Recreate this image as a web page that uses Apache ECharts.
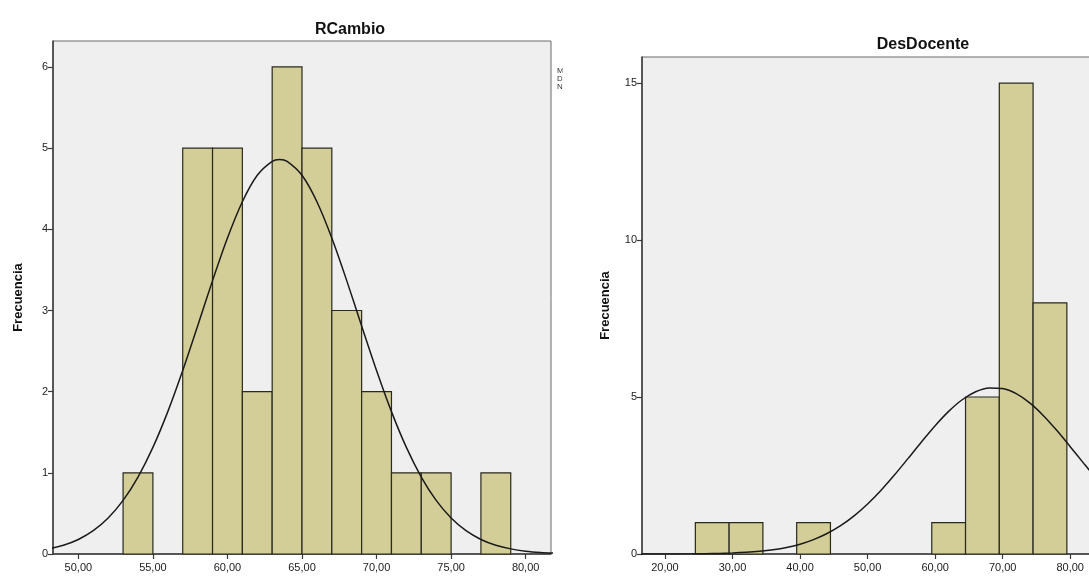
<!DOCTYPE html>
<html>
<head>
<meta charset="utf-8">
<script src="https://cdn.jsdelivr.net/npm/echarts@6/dist/echarts.min.js"></script>
<style>
html,body{margin:0;padding:0;background:#fff;}
#chart{width:1089px;height:580px;}
</style>
</head>
<body>
<div id="chart"></div>
<script>
// ---------- RCambio (left) ----------
const leftTitle = 'RCambio';
const leftBinStart = [53, 57, 59, 61, 63, 65, 67, 69, 71, 73, 77];
const leftBinEnd   = [55, 59, 61, 63, 65, 67, 69, 71, 73, 75, 79];
const leftCounts   = [1, 5, 5, 2, 6, 5, 3, 2, 1, 1, 1];
const leftXTicks = [50, 55, 60, 65, 70, 75, 80];
const leftYTicks = [0, 1, 2, 3, 4, 5, 6];
const leftCurveX = [48, 49, 50, 51, 52, 53, 54, 55, 56, 57, 58, 59, 60, 61, 62, 63, 63.5, 64, 65, 66, 67, 68, 69, 70, 71, 72, 73, 74, 75, 76, 77, 78, 79, 80, 81, 82];
const leftCurveY = [0.063, 0.108, 0.179, 0.287, 0.443, 0.660, 0.948, 1.313, 1.754, 2.261, 2.810, 3.368, 3.893, 4.340, 4.666, 4.838, 4.86, 4.838, 4.666, 4.340, 3.893, 3.368, 2.810, 2.261, 1.754, 1.313, 0.948, 0.660, 0.443, 0.287, 0.179, 0.108, 0.063, 0.035, 0.019, 0.010];
const leftLegend = ['Media = 63,50', 'Desviación típica = 5,25', 'N = 32'];

// ---------- DesDocente (right) ----------
const rightTitle = 'DesDocente';
const rightBinStart = [24.5, 29.5, 39.5, 59.5, 64.5, 69.5, 74.5];
const rightBinEnd   = [29.5, 34.5, 44.5, 64.5, 69.5, 74.5, 79.5];
const rightCounts   = [1, 1, 1, 1, 5, 15, 8];
const rightXTicks = [20, 30, 40, 50, 60, 70, 80];
const rightYTicks = [0, 5, 10, 15];
const rightCurveX = [16, 20, 24, 26, 28, 30, 32, 34, 36, 38, 40, 42, 44, 46, 48, 50, 52, 54, 56, 58, 60, 62, 64, 66, 68, 70, 72, 74, 76, 78, 80, 82, 84, 86];
const rightCurveY = [0.0004, 0.0015, 0.0056, 0.010, 0.018, 0.031, 0.052, 0.085, 0.135, 0.208, 0.313, 0.458, 0.652, 0.903, 1.217, 1.595, 2.034, 2.523, 3.046, 3.577, 4.087, 4.543, 4.913, 5.169, 5.291, 5.269, 5.106, 4.812, 4.414, 3.938, 3.418, 2.887, 2.372, 1.896];

const yName = 'Frecuencia';
const FONT = '"Liberation Sans", Arial, sans-serif';
const BAR_FILL = '#d3cd97';
const BAR_EDGE = '#2a2a1e';

function zip(a, b) { return a.map((v, i) => [v, b[i]]); }
function bins(s, e, c) { return s.map((v, i) => [v, e[i], c[i]]); }
function fmtX(v) { return Number(v).toFixed(2).replace('.', ','); }

function renderBar(params, api) {
  const p0 = api.coord([api.value(0), 0]);
  const p1 = api.coord([api.value(1), api.value(2)]);
  return {
    type: 'rect',
    shape: { x: p0[0], y: p1[1], width: p1[0] - p0[0], height: p0[1] - p1[1] },
    style: { fill: BAR_FILL, stroke: BAR_EDGE, lineWidth: 1.2 }
  };
}

function xAxisCfg(idx, min, max, ticks) {
  return {
    type: 'value', gridIndex: idx, min: min, max: max,
    axisLine: { show: true, onZero: false, lineStyle: { color: '#3a3a3a', width: 1.5 } },
    axisTick: { show: true, length: 5, customValues: ticks, lineStyle: { color: '#3a3a3a', width: 1.2 } },
    axisLabel: { customValues: ticks, formatter: fmtX, color: '#222', fontSize: 11, fontFamily: FONT, margin: 8 },
    splitLine: { show: false }
  };
}
function yAxisCfg(idx, max, ticks, gap) {
  return {
    type: 'value', gridIndex: idx, min: 0, max: max,
    name: yName, nameLocation: 'middle', nameRotate: 90, nameGap: gap,
    nameTextStyle: { fontFamily: FONT, fontWeight: 'bold', fontSize: 13, color: '#111' },
    axisLine: { show: true, lineStyle: { color: '#3a3a3a', width: 1.5 } },
    axisTick: { show: true, length: 5, customValues: ticks, lineStyle: { color: '#3a3a3a', width: 1.2 } },
    axisLabel: { customValues: ticks, color: '#222', fontSize: 11, fontFamily: FONT, margin: 5 },
    splitLine: { show: false }
  };
}

const chart = echarts.init(document.getElementById('chart'), null, { renderer: 'canvas' });
chart.setOption({
  backgroundColor: '#ffffff',
  animation: false,
  title: [
    { text: leftTitle, left: 345, top: 17, textAlign: 'center',
      textStyle: { fontFamily: FONT, fontWeight: 'bold', fontSize: 16, color: '#111' } },
    { text: rightTitle, left: 918, top: 32, textAlign: 'center',
      textStyle: { fontFamily: FONT, fontWeight: 'bold', fontSize: 16, color: '#111' } }
  ],
  grid: [
    { left: 53, top: 41, width: 498, height: 513, outerBoundsMode: 'none', show: true, backgroundColor: '#efefef', borderColor: '#6a6a6a', borderWidth: 1 },
    { left: 642, top: 57, width: 462, height: 497, outerBoundsMode: 'none', show: true, backgroundColor: '#efefef', borderColor: '#6a6a6a', borderWidth: 1 }
  ],
  xAxis: [
    xAxisCfg(0, 48.3, 81.7, leftXTicks),
    xAxisCfg(1, 16.6, 85, rightXTicks)
  ],
  yAxis: [
    yAxisCfg(0, 6.32, leftYTicks, 28),
    yAxisCfg(1, 15.83, rightYTicks, 30)
  ],
  graphic: [
    { type: 'group', left: 557, top: 67, z: 10, children: leftLegend.map((t, i) => ({
        type: 'text', x: 0, y: i * 8,
        style: { text: t, fill: '#333', font: '8px ' + FONT, width: 11, overflow: 'truncate', ellipsis: '' }
      })) },
    { type: 'rect', shape: { x: 562.5, y: 60, width: 40, height: 36 }, style: { fill: '#ffffff' }, z: 11 }
  ],
  series: [
    { type: 'custom', xAxisIndex: 0, yAxisIndex: 0, renderItem: renderBar,
      encode: { x: [0, 1], y: 2 }, data: bins(leftBinStart, leftBinEnd, leftCounts), z: 2 },
    { type: 'line', xAxisIndex: 0, yAxisIndex: 0, data: zip(leftCurveX, leftCurveY),
      smooth: 0.3, symbol: 'none', clip: true, lineStyle: { color: '#1a1a1a', width: 1.5 }, z: 3 },
    { type: 'custom', xAxisIndex: 1, yAxisIndex: 1, renderItem: renderBar,
      encode: { x: [0, 1], y: 2 }, data: bins(rightBinStart, rightBinEnd, rightCounts), z: 2 },
    { type: 'line', xAxisIndex: 1, yAxisIndex: 1, data: zip(rightCurveX, rightCurveY),
      smooth: 0.3, symbol: 'none', clip: true, lineStyle: { color: '#1a1a1a', width: 1.5 }, z: 3 }
  ]
});
</script>
</body>
</html>
